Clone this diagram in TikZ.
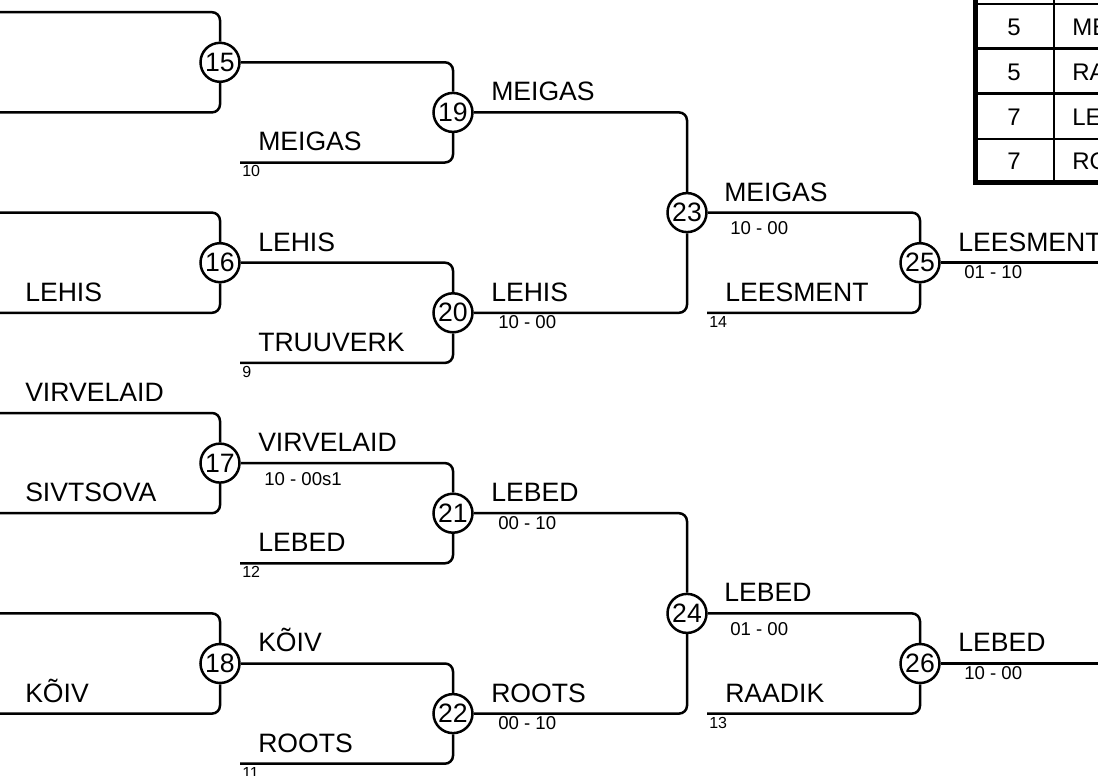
\documentclass[tikz,border=0pt]{standalone}
\usepackage{fontspec}
\setmainfont{Liberation Sans}

\begin{document}
\begin{tikzpicture}[x=0.5pt, y=-0.5pt, line width=1.25pt,
  main/.style = {draw, circle, fill=white, inner sep=0pt, minimum size=19.5pt, font=\fontsize{13.3}{15}\selectfont},
  player/.style = {anchor=base west, inner sep=0pt, font=\fontsize{13.3}{15}\selectfont},
  score/.style = {anchor=base west, inner sep=0pt, font=\fontsize{9.3}{11}\selectfont},
  seed/.style = {anchor=base west, inner sep=0pt, font=\fontsize{8}{10}\selectfont},
  cell/.style = {anchor=base, inner sep=0pt, font=\fontsize{12}{14}\selectfont},
  link/.style = {rounded corners=4pt}]
        \clip (0,0) rectangle (1098,776);

        \node[main] (m15) at (220,62.3) {15};
        \node[main] (m16) at (220,262.7) {16};
        \node[main] (m17) at (220,463.1) {17};
        \node[main] (m18) at (220,663.5) {18};

        \node[main] (m19) at (453,112.4) {19};
        \node[main] (m20) at (453,312.8) {20};
        \node[main] (m21) at (453,513.2) {21};
        \node[main] (m22) at (453,713.6) {22};

        \node[main] (m23) at (687,212.6) {23};
        \node[main] (m24) at (687,613.4) {24};

        \node[main] (m25) at (920,262.7) {25};
        \node[main] (m26) at (920,663.5) {26};

        % free ends
        \coordinate (a1) at (-5,12.2);
        \coordinate (a2) at (-5,112.4);
        \coordinate (a3) at (-5,212.6);
        \coordinate (a4) at (-5,312.8);
        \coordinate (a5) at (-5,413.0);
        \coordinate (a6) at (-5,513.2);
        \coordinate (a7) at (-5,613.4);
        \coordinate (a8) at (-5,713.6);
        \coordinate (s10) at (240,162.5);
        \coordinate (s9) at (240,362.9);
        \coordinate (s12) at (240,563.3);
        \coordinate (s11) at (240,763.7);
        \coordinate (s14) at (707,312.8);
        \coordinate (s13) at (707,713.6);
        \coordinate (o25) at (1105,262.7);
        \coordinate (o26) at (1105,663.5);

        \draw[link] (a1) -| (m15);
        \draw[link] (a2) -| (m15);
        \draw[link] (a3) -| (m16);
        \draw[link] (a4) -| (m16);
        \draw[link] (a5) -| (m17);
        \draw[link] (a6) -| (m17);
        \draw[link] (a7) -| (m18);
        \draw[link] (a8) -| (m18);

        \draw[link] (m15) -| (m19);
        \draw[link] (s10) -| (m19);
        \draw[link] (m16) -| (m20);
        \draw[link] (s9) -| (m20);
        \draw[link] (m17) -| (m21);
        \draw[link] (s12) -| (m21);
        \draw[link] (m18) -| (m22);
        \draw[link] (s11) -| (m22);

        \draw[link] (m19) -| (m23);
        \draw[link] (m20) -| (m23);
        \draw[link] (m21) -| (m24);
        \draw[link] (m22) -| (m24);

        \draw[link] (m23) -| (m25);
        \draw[link] (s14) -| (m25);
        \draw[link] (m24) -| (m26);
        \draw[link] (s13) -| (m26);

        \draw (m25) -- (o25);
        \draw (m26) -- (o26);

        % names
        \node[player] (p16b) at (24,301.2) {LEHIS};
        \node[player] (p17a) at (24,401.4) {VIRVELAID};
        \node[player] (p17b) at (24,501.6) {SIVTSOVA};
        \node[player] (p18b) at (24,702.0) {KÕIV};

        \node[player] (p16) at (257,251.1) {LEHIS};
        \node[player] (p17) at (257,451.5) {VIRVELAID};
        \node[score] (r17) at (263,485.4) {10 - 00s1};
        \node[player] (p18) at (257,651.9) {KÕIV};

        \node[player] (q10) at (257,150.9) {MEIGAS};
        \node[seed] (n10) at (241,176.9) {10};
        \node[player] (q9) at (257,351.3) {TRUUVERK};
        \node[seed] (n9) at (241,377.3) {9};
        \node[player] (q12) at (257,551.7) {LEBED};
        \node[seed] (n12) at (241,577.7) {12};
        \node[player] (q11) at (257,752.1) {ROOTS};
        \node[seed] (n11) at (241,778.1) {11};

        \node[player] (p19) at (490,100.8) {MEIGAS};
        \node[player] (p20) at (490,301.2) {LEHIS};
        \node[score] (r20) at (497,328.8) {10 - 00};
        \node[player] (p21) at (490,501.6) {LEBED};
        \node[score] (r21) at (497,529.2) {00 - 10};
        \node[player] (p22) at (490,702.0) {ROOTS};
        \node[score] (r22) at (497,729.6) {00 - 10};

        \node[player] (p23) at (723,201.0) {MEIGAS};
        \node[score] (r23) at (729,234.9) {10 - 00};
        \node[player] (p24) at (723,601.8) {LEBED};
        \node[score] (r24) at (729,635.7) {01 - 00};
        \node[player] (q14) at (724,301.2) {LEESMENT};
        \node[seed] (n14) at (708,327.2) {14};
        \node[player] (q13) at (724,702.0) {RAADIK};
        \node[seed] (n13) at (708,728.0) {13};

        \node[player] (p25) at (957,251.1) {LEESMENT};
        \node[score] (r25) at (963,278.2) {01 - 10};
        \node[player] (p26) at (957,651.9) {LEBED};
        \node[score] (r26) at (963,679.0) {10 - 00};

        % places
        \draw (1054,-5) -- (1054,182);
        \draw (975,4) -- (1105,4);
        \draw (975,48.5) -- (1105,48.5);
        \draw (975,93.5) -- (1105,93.5);
        \draw (975,139) -- (1105,139);
        \draw[line width=2.5pt] (975,-5) -- (975,182) -- (1105,182);
        \node[cell] (c1) at (1014,35) {5};
        \node[cell] (c2) at (1014,80) {5};
        \node[cell] (c3) at (1014,125) {7};
        \node[cell] (c4) at (1014,169) {7};
        \node[cell, anchor=base west] (d1) at (1071,35) {MEIGAS};
        \node[cell, anchor=base west] (d2) at (1071,80) {RAADIK};
        \node[cell, anchor=base west] (d3) at (1071,125) {LEHIS};
        \node[cell, anchor=base west] (d4) at (1071,169) {ROOTS};
\end{tikzpicture}
\end{document}
